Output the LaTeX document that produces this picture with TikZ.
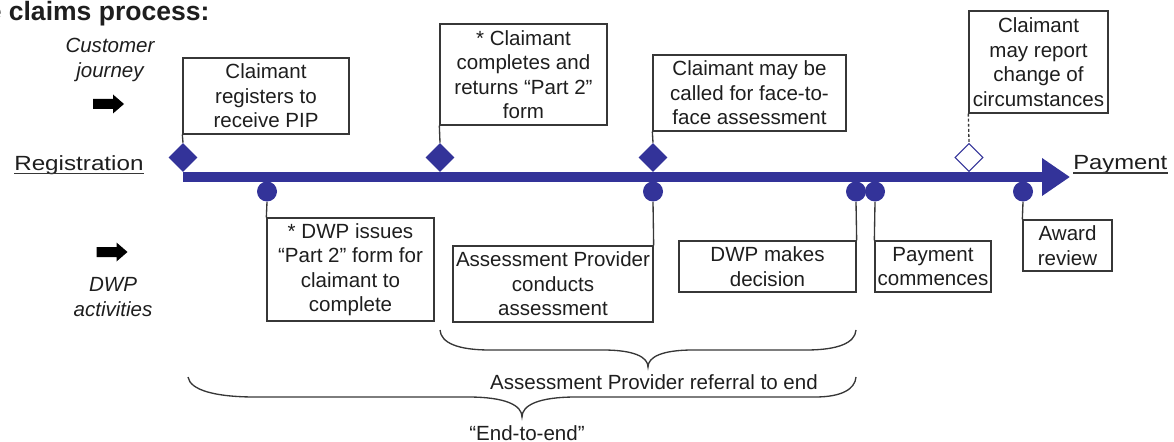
\documentclass[tikz,border=0pt]{standalone}
\usepackage{fontspec}
\setmainfont{Liberation Sans}
\usetikzlibrary{shapes.geometric,arrows.meta}
\definecolor{pipblue}{RGB}{51,51,153}
\definecolor{ink}{RGB}{30,30,30}
\definecolor{edge}{RGB}{55,55,55}
\begin{document}
\begin{tikzpicture}[x=0.75pt,y=-0.75pt,
  every node/.style={font=\fontsize{15.4pt}{18.4pt}\selectfont, text=ink},
  box/.style={draw=edge, line width=1pt, fill=white, inner sep=0pt, align=center},
  conn/.style={draw=edge, line width=1pt},
  optconn/.style={draw=edge, line width=1pt, dash pattern=on 2.2pt off 1.6pt},
  ev/.style={diamond, fill=pipblue, inner sep=0pt, minimum width=29*0.75pt, minimum height=29*0.75pt},
  evopt/.style={diamond, draw=pipblue, fill=white, line width=0.8pt, inner sep=0pt, minimum width=28*0.75pt, minimum height=28*0.75pt},
  act/.style={circle, fill=pipblue, inner sep=0pt, minimum size=20*0.75pt},
  brace/.style={draw=edge, line width=1pt},
  lbl/.style={inner sep=0pt},
  endlbl/.style={inner sep=0pt},
  blockarrow/.pic={\fill[black] (-15.5,-5) -- (4.5,-5) -- (4.5,-9.5) -- (15.5,0) -- (4.5,9.5) -- (4.5,5) -- (-15.5,5) -- cycle;}
]
\useasboundingbox (0,0) rectangle (1174,442);

% title (cut at the left edge)
\node[lbl, anchor=base west, font=\fontsize{19.9pt}{24pt}\selectfont\bfseries] (title) at (-13.5,20.7) {e claims process:};

% side labels
\node[lbl, align=center, font=\fontsize{15.4pt}{18.4pt}\selectfont\itshape] (cj) at (110,60) {Customer\\journey};
\pic at (108.5,104) {blockarrow};
\pic at (112,252) {blockarrow};
\node[lbl, align=center, font=\fontsize{15.4pt}{18.4pt}\selectfont\itshape] (dwp) at (113,297) {DWP\\activities};

\node[endlbl, anchor=base west] (reg) at (14,170.7) {\scalebox{1.18}[1]{Registration}};
\draw[edge, line width=1pt] ([yshift=-2pt]reg.base west) -- ([yshift=-2pt]reg.base east);
\node[endlbl, anchor=base west] (pay) at (1073,169.5) {\scalebox{1.16}[1]{Payment}};
\draw[edge, line width=1pt] ([yshift=-2.6pt]pay.base west) -- ([yshift=-2.6pt]pay.base east);

% timeline
\coordinate (tlstart) at (183,177);
\coordinate (tlend) at (1070,177);
\draw[pipblue, line width=7.5pt, -{Triangle[length=21pt,width=27pt]}] (tlstart) -- (tlend);

% customer events (above)
\node[box, minimum width=166*0.75pt, minimum height=76*0.75pt] (b1) at (266,96) {Claimant\\registers to\\receive PIP};
\node[box, minimum width=167*0.75pt, minimum height=101*0.75pt] (b2) at (523.5,74.5) {* Claimant\\completes and\\returns “Part 2”\\form};
\node[box, minimum width=193*0.75pt, minimum height=76*0.75pt] (b3) at (749.5,93) {Claimant may be\\called for face-to-\\face assessment};
\node[box, minimum width=139*0.75pt, minimum height=102*0.75pt] (b4) at (1038.5,62) {Claimant\\may report\\change of\\circumstances};

\node[ev] (e1) at (183,157.5) {};
\node[ev] (e2) at (440,157.5) {};
\node[ev] (e3) at (653,157.5) {};
\node[evopt] (e4) at (969,157.5) {};

\draw[conn] (b1.south west) -- (e1.north);
\draw[conn] (b2.south west) -- (e2.north);
\draw[conn] (b3.south west) -- (e3.north);
\draw[optconn] (b4.south west) -- (e4.north);

% DWP activities (below)
\node[box, minimum width=167*0.75pt, minimum height=103*0.75pt] (b5) at (350.5,269.5) {* DWP issues\\“Part 2” form for\\claimant to\\complete};
\node[box, minimum width=200*0.75pt, minimum height=76*0.75pt] (b6) at (553,284) {Assessment Provider\\conducts\\assessment};
\node[box, minimum width=177*0.75pt, minimum height=51*0.75pt] (b7) at (767.5,266.5) {DWP makes\\decision};
\node[box, minimum width=116*0.75pt, minimum height=51*0.75pt] (b8) at (933,266.5) {Payment\\commences};
\node[box, minimum width=89*0.75pt, minimum height=51*0.75pt] (b9) at (1067.5,245.5) {Award\\review};

\node[act] (a1) at (267,191.5) {};
\node[act] (a2) at (653,191.5) {};
\node[act] (a3) at (856,191.5) {};
\node[act] (a4) at (875,191.5) {};
\node[act] (a5) at (1023,191.5) {};

\draw[conn] (a1.south) -- (b5.north west);
\draw[conn] (a2.south) -- (b6.north east);
\draw[conn] (a3.south) -- (b7.north east);
\draw[conn] (a4.south) -- (b8.north west);
\draw[conn] (a5.south) -- (b9.north west);

% braces
\draw[brace] (440,330) .. controls (441,343) and (458,350) .. (490,350) -- (603,350)
  .. controls (634,350) and (648,357) .. (648,367)
  .. controls (648,357) and (662,350) .. (693,350) -- (806,350)
  .. controls (838,350) and (855,343) .. (856,330);
\node[lbl, anchor=base] (apr) at (654,389) {Assessment Provider referral to end};

\draw[brace] (188,377) .. controls (190,390) and (215,397) .. (255,397) -- (468,397)
  .. controls (505,397) and (522,405) .. (522,417)
  .. controls (522,405) and (539,397) .. (576,397) -- (815,397)
  .. controls (842,397) and (855,389) .. (856,377);
\node[lbl, anchor=base] (e2e) at (527,440) {“End-to-end”};
\end{tikzpicture}
\end{document}
